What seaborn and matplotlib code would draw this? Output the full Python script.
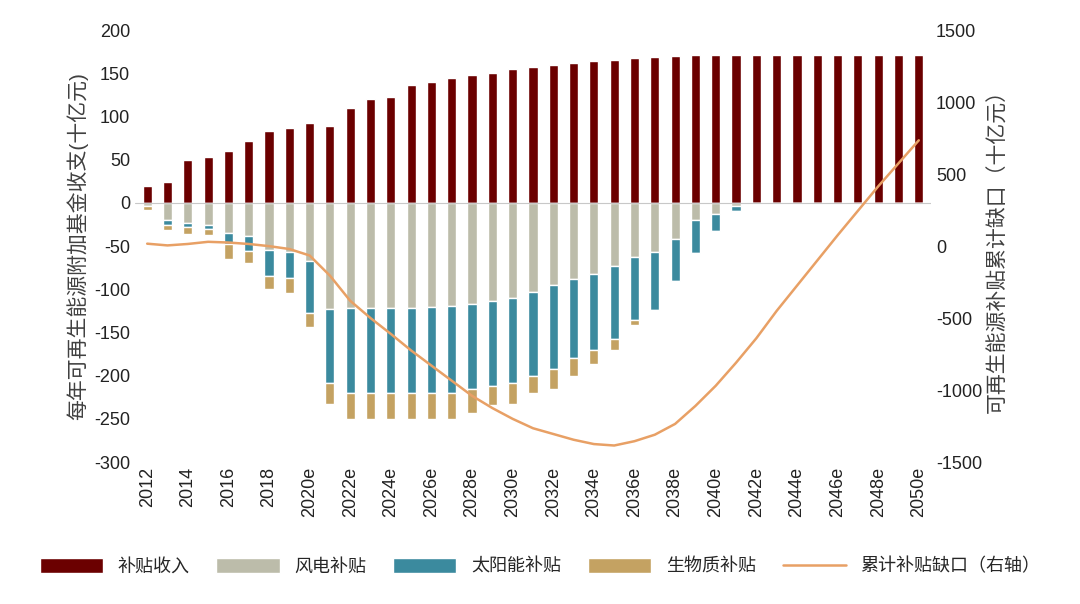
import numpy as np
import pandas as pd
import seaborn as sns
import matplotlib.pyplot as plt

sns.set_theme(style="white")
plt.rcParams['font.family'] = ['Liberation Sans', 'Noto Sans CJK SC', 'DejaVu Sans']
plt.rcParams['axes.unicode_minus'] = False

years = [str(y) if y < 2020 else f"{y}e" for y in range(2012, 2051)]
income = [20, 24, 50, 53, 60, 72, 83, 87, 92, 89, 110, 120, 123, 136, 140, 145, 148, 151,
          155, 157, 160, 162, 164, 166, 168, 169, 170] + [171] * 12
wind = [-3, -20, -23, -25, -35, -38, -55, -57, -67, -123, -122, -122, -122, -122, -120, -119,
        -117, -113, -110, -103, -95, -88, -82, -73, -63, -57, -42, -20, -13, -3] + [0] * 9
solar = [0, -6, -5, -5, -13, -18, -30, -30, -60, -85, -98, -98, -98, -98, -100, -101,
         -98, -99, -98, -97, -97, -92, -88, -85, -72, -67, -48, -38, -20, -6] + [0] * 9
biomass = [-5, -5, -8, -7, -17, -14, -15, -17, -17, -25, -30, -30, -30, -30, -30, -30,
           -28, -22, -25, -20, -23, -20, -17, -12, -6] + [0] * 14
gap = [17, 5, 15, 30, 25, 15, 0, -20, -65, -205, -380, -500, -610, -725, -830, -935, -1040,
       -1125, -1200, -1265, -1305, -1345, -1375, -1385, -1355, -1310, -1235, -1110, -970,
       -810, -640, -450, -275, -100, 75, 245, 415, 575, 735]

df = pd.DataFrame({"year": years, "income": income, "wind": wind, "solar": solar, "bio": biomass})
wind_solar = np.array(wind) + np.array(solar)

fig, ax = plt.subplots(figsize=(10.8, 6.04), dpi=100)
fig.subplots_adjust(left=0.125, right=0.862, top=0.95, bottom=0.235)

w = 0.45
sns.barplot(data=df, x="year", y="income", color="#6b0000", width=w, ax=ax, label="补贴收入", saturation=1)
sns.barplot(data=df, x="year", y="wind", color="#bcbcaa", width=w, ax=ax, label="风电补贴", saturation=1)
ax.bar(np.arange(len(years)), solar, bottom=wind, color="#3b8a9e", width=w, label="太阳能补贴")
ax.bar(np.arange(len(years)), biomass, bottom=wind_solar, color="#c4a262", width=w, label="生物质补贴")
if ax.get_legend() is not None:
    ax.get_legend().remove()

ax.set_ylim(-300, 200)
ax.set_yticks(range(-300, 201, 50))
ax.set_xlim(-0.6, len(years) - 0.4)
ax.set_xticks(range(0, len(years), 2))
ax.set_xticklabels(years[::2], rotation=90)
ax.set_xlabel("")
ax.set_ylabel("每年可再生能源附加基金收支(十亿元)", fontsize=15, color="#404040")
ax.axhline(0, color="#c8c8c8", lw=0.8)
ax.tick_params(axis="both", labelsize=13, colors="#222222", length=0)
for s in ax.spines.values():
    s.set_visible(False)

ax2 = ax.twinx()
sns.lineplot(x=np.arange(len(years)), y=gap, color="#e8a065", lw=1.8, ax=ax2, label="累计补贴缺口（右轴）", legend=False)
ax2.set_ylim(-1500, 1500)
ax2.set_yticks(range(-1500, 1501, 500))
ax2.set_ylabel("可再生能源补贴累计缺口（十亿元）", fontsize=15, color="#404040")
ax2.tick_params(axis="y", labelsize=13, colors="#222222", length=0)
for s in ax2.spines.values():
    s.set_visible(False)

h1, l1 = ax.get_legend_handles_labels()
h2, l2 = ax2.get_legend_handles_labels()
fig.legend(h1 + h2, l1 + l2, loc="lower center", ncol=5, frameon=False, fontsize=13,
           bbox_to_anchor=(0.5, 0.02), handlelength=3.5, handleheight=0.9, columnspacing=1.5)

fig.savefig("out.png", dpi=100)
